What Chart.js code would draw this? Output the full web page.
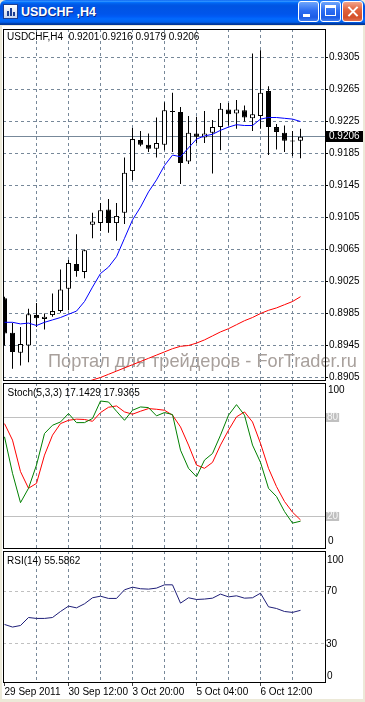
<!DOCTYPE html>
<html>
<head>
<meta charset="utf-8">
<script src="https://cdn.jsdelivr.net/npm/chart.js@4.4.1/dist/chart.umd.min.js"></script>
<style>
html,body{margin:0;padding:0;}
body{width:365px;height:702px;overflow:hidden;position:relative;background:#ece9d8;font-family:"Liberation Sans",Arial,sans-serif;}
#titlebar{position:absolute;left:0;top:0;width:365px;height:25px;border-radius:6px 6px 0 0;
 background:linear-gradient(to bottom,#0058ee 0%,#3593ff 4%,#288eff 6%,#127dff 8%,#036ffc 10%,#0262ee 14%,#0057e5 20%,#0054e3 24%,#0055eb 56%,#005bf5 66%,#026afe 76%,#0062ef 86%,#0052d6 92%,#0040ab 94%,#003092 100%);}
#ticon{position:absolute;left:3px;top:4px;width:15px;height:15px;background:linear-gradient(#ffffff,#c9d6ee);border:1px solid #1c3f94;box-sizing:border-box;}
#ticon i{position:absolute;bottom:2px;width:2px;background:#1c3f94;}
#ttext{position:absolute;left:21px;top:5px;color:#fff;font:bold 12.5px "Liberation Sans",Arial,sans-serif;text-shadow:1px 1px 0 #0a2a8a;white-space:nowrap;}
.btn{position:absolute;top:1px;width:21px;height:21px;border:1px solid #fff;border-radius:3px;box-sizing:border-box;
 background:linear-gradient(#6fa6fb,#2d6ef2 45%,#1c5ce6 80%,#3f7cf0);}
#bmin{left:298px;} #bmax{left:320px;} #bclose{left:342px;background:linear-gradient(#f2a58c,#e2643e 40%,#d4502a 80%,#e07050);}
#bmin span{position:absolute;left:4px;top:12px;width:7px;height:3px;background:#fff;}
#bmax span{position:absolute;left:4px;top:3px;width:11px;height:11px;border:1px solid #fff;border-top-width:3px;box-sizing:border-box;}
#bclose span{position:absolute;left:9px;top:3px;width:2px;height:13px;background:#fff;}
#bclose .x1{transform:rotate(45deg);} #bclose .x2{transform:rotate(-45deg);}
#inner{position:absolute;left:2px;top:26px;width:361px;height:673px;background:#fff;}
canvas{position:absolute;left:0;}
</style>
</head>
<body>
<div id="titlebar">
  <div id="ticon"><i style="left:3px;height:5px"></i><i style="left:6px;height:8px"></i><i style="left:9px;height:4px"></i></div>
  <div id="ttext"></div>
  <div class="btn" id="bmin"><span></span></div>
  <div class="btn" id="bmax"><span></span></div>
  <div class="btn" id="bclose"><span class="x1"></span><span class="x2"></span></div>
</div>
<div id="inner"></div>
<canvas id="cMain" width="365" height="355" style="top:28px"></canvas>
<canvas id="cStoch" width="365" height="167" style="top:382px"></canvas>
<canvas id="cRsi" width="365" height="152" style="top:550px"></canvas>
<script>
// ---------------- data ----------------
const symbol = 'USDCHF';
const timeframe = 'H4';
const opens  = [0.9004,0.8961,0.8936,0.8945,0.8983,0.8978,0.8983,0.8988,0.9016,0.9047,0.9037,0.9096,0.9098,0.9115,0.9098,0.9111,0.9163,0.9202,0.9196,0.9191,0.9196,0.9238,0.9237,0.9175,0.9210,0.9205,0.9211,0.9218,0.9240,0.9235,0.9239,0.9229,0.9232,0.9263,0.9218,0.9211,0.9200,0.9201];
const highs  = [0.9006,0.8973,0.8968,0.8991,0.8998,0.8985,0.9010,0.9040,0.9052,0.9084,0.9065,0.9111,0.9123,0.9128,0.9123,0.9180,0.9217,0.9213,0.9210,0.9230,0.9249,0.9261,0.9243,0.9232,0.9231,0.9238,0.9227,0.9248,0.9248,0.9252,0.9245,0.9310,0.9314,0.9269,0.9222,0.9220,0.9213,0.9216];
const lows   = [0.8945,0.8916,0.8920,0.8924,0.8968,0.8965,0.8981,0.8986,0.8989,0.9031,0.9029,0.9079,0.9088,0.9086,0.9076,0.9097,0.9152,0.9194,0.9187,0.9180,0.9189,0.9187,0.9147,0.9172,0.9198,0.9198,0.9160,0.9189,0.9220,0.9216,0.9225,0.9213,0.9216,0.9183,0.9190,0.9187,0.9182,0.9179];
const closes = [0.8960,0.8937,0.8947,0.8984,0.8979,0.8981,0.8988,0.9015,0.9048,0.9038,0.9064,0.9100,0.9114,0.9098,0.9107,0.9161,0.9203,0.9196,0.9191,0.9198,0.9239,0.9237,0.9173,0.9211,0.9206,0.9210,0.9218,0.9241,0.9234,0.9240,0.9230,0.9234,0.9261,0.9218,0.9212,0.9201,0.9201,0.9206];
const maFast = [0.8974,0.8974,0.8972,0.8973,0.8970,0.8974,0.8977,0.8980,0.8984,0.8988,0.9000,0.9018,0.9035,0.9043,0.9056,0.9079,0.9102,0.9118,0.9137,0.9152,0.9170,0.9183,0.9181,0.9192,0.9203,0.9207,0.9209,0.9214,0.9218,0.9221,0.9220,0.9220,0.9228,0.9230,0.9230,0.9229,0.9228,0.9225];
const maSlow = [null,null,null,null,null,null,null,null,null,null,0.8898,0.8902,0.8905,0.8909,0.8913,0.8917,0.8921,0.8925,0.8929,0.8933,0.8937,0.8941,0.8944,0.8945,0.8948,0.8952,0.8957,0.8962,0.8966,0.8971,0.8976,0.8980,0.8985,0.8989,0.8992,0.8996,0.9000,0.9006];
const stochK = [68.3,46.2,28.4,37.1,51.2,70.3,75.3,77.3,82.4,76.9,76.9,79.4,90.0,89.4,83.8,78.3,84.4,86.4,86.0,81.0,83.0,81.8,60.2,49.2,44.1,54.2,58.2,69.3,81.4,87.8,81.4,63.3,52.8,37.1,32.1,23.0,16.0,17.1429];
const stochD = [76.3,66.3,47.2,37.1,40.1,57.2,69.3,76.3,78.3,79.0,78.8,77.7,83.0,86.2,87.0,83.4,82.0,83.8,85.4,85.0,84.4,81.4,74.3,63.3,51.2,49.2,52.8,63.3,72.3,80.4,83.4,77.3,64.3,49.2,38.1,29.1,22.6,17.9365];
const rsi    = [44.8,42.8,44.0,50.1,49.4,49.4,50.1,54.7,58.8,57.5,60.6,65.2,66.4,64.7,64.7,71.3,73.3,72.1,71.8,72.6,75.1,75.1,61.1,65.2,63.9,64.2,64.9,68.0,65.9,66.7,64.9,65.2,68.7,58.3,57.0,54.7,54.0,55.5862];
const priceTicks = [0.8905,0.8945,0.8985,0.9025,0.9065,0.9105,0.9145,0.9185,0.9225,0.9265,0.9305];
const gridBars = [4,8,12,16,20,24,28,32,36];
const dateTickBars = [0,8,16,24,32];
const dateTickLabels = ['29 Sep 2011','30 Sep 12:00','3 Oct 20:00','5 Oct 04:00','6 Oct 12:00'];
const stochLevels = [20,80];
const rsiLevels = [30,70];
const oscBounds = [0,100];
const stochParams = '5,3,3';
const rsiPeriod = 14;
const watermark = 'Портал для трейдеров - ForTrader.ru';

// ---------------- setup ----------------
document.getElementById('ttext').textContent = symbol + ' ,' + timeframe;
Chart.defaults.font.family = '"Liberation Sans", Arial, sans-serif';
Chart.defaults.font.size = 10;
Chart.defaults.color = '#000';

const bars = opens.map((_, i) => i);
const last = opens.length - 1;
const X_MIN = -0.1875, X_MAX = 40.0625;
const GRID = '#778899';
const CLEAR = 'rgba(0,0,0,0)';
const FONT = '10px "Liberation Sans", Arial, sans-serif';

function xAxis(tickBars, showLabels) {
  return {
    type: 'linear', min: X_MIN, max: X_MAX, offset: false, bounds: 'data',
    afterBuildTicks: s => { s.ticks = tickBars.map(v => ({ value: v })); },
    afterFit: s => { s.paddingLeft = 0; s.paddingRight = 0; if (showLabels) s.height = 20; },
    grid: {
      offset: false, lineWidth: 1,
      color: c => (c.tick && gridBars.includes(c.tick.value)) ? GRID : CLEAR,
      drawTicks: showLabels, tickLength: 4, tickBorderDash: [],
      tickColor: c => (c.tick && dateTickBars.includes(c.tick.value)) ? '#444' : CLEAR
    },
    border: { display: false, dash: [3, 3] },
    ticks: {
      display: showLabels, autoSkip: false, maxRotation: 0, minRotation: 0, align: 'start', padding: 0,
      color: '#000', font: { size: 10 },
      callback: v => { const k = dateTickBars.indexOf(v); return k >= 0 ? dateTickLabels[k] : ''; }
    }
  };
}

const decor = {
  id: 'decor',
  beforeDatasetsDraw(chart, args, o) {
    const { ctx, chartArea: a } = chart;
    ctx.save();
    if (o.bid != null) {
      const py = Math.floor(chart.scales.y.getPixelForValue(o.bid)) + 0.5;
      ctx.strokeStyle = GRID; ctx.lineWidth = 1;
      ctx.beginPath(); ctx.moveTo(a.left, py); ctx.lineTo(a.right, py); ctx.stroke();
    }
    if (o.watermark) {
      const wm = o.watermark;
      ctx.font = '16px "Liberation Sans", Arial, sans-serif';
      const w = ctx.measureText(wm.text).width;
      const size = 16 * wm.width / w;
      ctx.font = size.toFixed(2) + 'px "Liberation Sans", Arial, sans-serif';
      ctx.fillStyle = '#a8a09c'; ctx.textBaseline = 'alphabetic'; ctx.textAlign = 'left';
      ctx.fillText(wm.text, wm.x, wm.y);
    }
    ctx.restore();
  },
  afterDraw(chart, args, o) {
    const { ctx, chartArea: a } = chart;
    ctx.save();
    ctx.strokeStyle = '#000'; ctx.lineWidth = 1;
    ctx.strokeRect(a.left + 0.5, a.top + 0.5, a.right - a.left, a.bottom - a.top);
    ctx.font = FONT; ctx.fillStyle = '#000'; ctx.textBaseline = 'middle'; ctx.textAlign = 'left';
    if (o.header) ctx.fillText(o.header, o.headerX, a.top + o.headerY);
    if (o.edge) {
      ctx.fillText(String(oscBounds[1]), o.edge.x, a.top + o.edge.top);
      ctx.fillText(String(oscBounds[0]), o.edge.x, a.bottom - o.edge.bottom);
    }
    if (o.bid != null) {
      const py = Math.floor(chart.scales.y.getPixelForValue(o.bid)) + 0.5;
      const txt = o.bid.toFixed(4);
      const tw = ctx.measureText(txt).width;
      ctx.fillStyle = '#000';
      ctx.fillRect(a.right + 1, Math.round(py - 6), Math.ceil(tw) + 6, 11);
      ctx.fillStyle = '#fff';
      ctx.fillText(txt, a.right + 4, py);
    }
    ctx.restore();
  }
};

// ---------------- main chart ----------------
new Chart(document.getElementById('cMain'), {
  type: 'bar',
  data: {
    datasets: [
      { type: 'line', label: 'MA fast', data: bars.map(i => ({ x: i, y: maFast[i] })), borderColor: '#0000ff', borderWidth: 1, pointRadius: 0, tension: 0, order: 0, clip: 0 },
      { type: 'line', label: 'MA slow', data: bars.map(i => ({ x: i, y: maSlow[i] })), borderColor: '#ff0000', borderWidth: 1, pointRadius: 0, tension: 0, order: 0, clip: 0 },
      { type: 'bar', label: 'bodies', data: bars.map(i => ({ x: i, y: [opens[i], closes[i]] })),
        backgroundColor: bars.map(i => closes[i] > opens[i] ? '#ffffff' : '#000000'),
        borderColor: '#000', borderWidth: 1, borderSkipped: false, barThickness: 5, grouped: false,
        minBarLength: 1, inflateAmount: 0, order: 1, clip: 0 },
      { type: 'bar', label: 'wicks', data: bars.map(i => ({ x: i, y: [lows[i], highs[i]] })),
        backgroundColor: '#000', borderWidth: 0, barThickness: 1, grouped: false, inflateAmount: 0, order: 2, clip: 0 }
    ]
  },
  options: {
    responsive: false, animation: false, events: [],
    layout: { padding: { left: 3, right: 0, top: 1, bottom: 3 }, autoPadding: false },
    plugins: {
      legend: { display: false }, tooltip: { enabled: false },
      decor: {
        headerX: 7, headerY: 8,
        header: symbol + ',' + timeframe + '  ' + [opens[last], highs[last], lows[last], closes[last]].map(v => v.toFixed(4)).join(' '),
        bid: closes[last],
        watermark: { text: watermark, x: 48, y: 338.7, width: 309 }
      }
    },
    scales: {
      x: xAxis(gridBars, false),
      y: {
        type: 'linear', position: 'right', min: 0.8901875, max: 0.9340625, bounds: 'data', beginAtZero: false,
        afterBuildTicks: s => { s.ticks = priceTicks.map(v => ({ value: v })); },
        afterFit: s => { s.width = 40; s.paddingTop = 0; s.paddingBottom = 0; },
        grid: { color: GRID, lineWidth: 1, drawTicks: true, tickLength: 3, tickColor: '#000', tickBorderDash: [] },
        border: { display: false, dash: [3, 3] },
        ticks: { padding: 1, color: '#000', font: { size: 10 }, callback: v => Number(v).toFixed(4) }
      }
    }
  },
  plugins: [decor]
});

// ---------------- stochastic ----------------
new Chart(document.getElementById('cStoch'), {
  type: 'line',
  data: {
    datasets: [
      { label: '%K', data: bars.map(i => ({ x: i, y: stochK[i] })), borderColor: '#008000', borderWidth: 1, pointRadius: 0, tension: 0, clip: 0 },
      { label: '%D', data: bars.map(i => ({ x: i, y: stochD[i] })), borderColor: '#ff0000', borderWidth: 1, pointRadius: 0, tension: 0, clip: 0 }
    ]
  },
  options: {
    responsive: false, animation: false, events: [],
    layout: { padding: { left: 3, right: 0, top: 1, bottom: 1 }, autoPadding: false },
    plugins: {
      legend: { display: false }, tooltip: { enabled: false },
      decor: {
        headerX: 7.5, headerY: 10.3,
        header: 'Stoch(' + stochParams + ') ' + stochK[last].toFixed(4) + ' ' + stochD[last].toFixed(4),
        edge: { x: 328, top: 7, bottom: 6.3 }
      }
    },
    scales: {
      x: xAxis(gridBars, false),
      y: {
        type: 'linear', position: 'right', min: 0.91, max: 100.91, bounds: 'data',
        afterBuildTicks: s => { s.ticks = stochLevels.map(v => ({ value: v })); },
        afterFit: s => { s.width = 40; s.paddingTop = 0; s.paddingBottom = 0; },
        grid: { color: '#c0c0c0', lineWidth: 1, drawTicks: false },
        border: { display: false },
        ticks: {
          padding: 2, color: '#f6f6f6', font: { size: 10, lineHeight: 0.9 },
          showLabelBackdrop: true, backdropColor: '#c0c0c0', backdropPadding: { top: 0, bottom: 0, left: 1, right: 1 },
          callback: v => String(v)
        }
      }
    }
  },
  plugins: [decor]
});

// ---------------- RSI ----------------
new Chart(document.getElementById('cRsi'), {
  type: 'line',
  data: {
    datasets: [
      { label: 'RSI', data: bars.map(i => ({ x: i, y: rsi[i] })), borderColor: '#1e1e78', borderWidth: 1, pointRadius: 0, tension: 0, clip: 0 }
    ]
  },
  options: {
    responsive: false, animation: false, events: [],
    layout: { padding: { left: 3, right: 0, top: 1, bottom: 0 }, autoPadding: false },
    plugins: {
      legend: { display: false }, tooltip: { enabled: false },
      decor: {
        headerX: 7, headerY: 10,
        header: 'RSI(' + rsiPeriod + ') ' + rsi[last].toFixed(4),
        edge: { x: 327, top: 9, bottom: 5.3 }
      }
    },
    scales: {
      x: xAxis([0].concat(gridBars), true),
      y: {
        type: 'linear', position: 'right', min: 0.78, max: 100.97, bounds: 'data',
        afterBuildTicks: s => { s.ticks = rsiLevels.map(v => ({ value: v })); },
        afterFit: s => { s.width = 40; s.paddingTop = 0; s.paddingBottom = 0; },
        grid: { color: '#c0c0c0', lineWidth: 1, drawTicks: false },
        border: { display: false, dash: [3, 3] },
        ticks: { padding: 1, color: '#000', font: { size: 10 }, callback: v => String(v) }
      }
    }
  },
  plugins: [decor]
});
</script>
</body>
</html>
